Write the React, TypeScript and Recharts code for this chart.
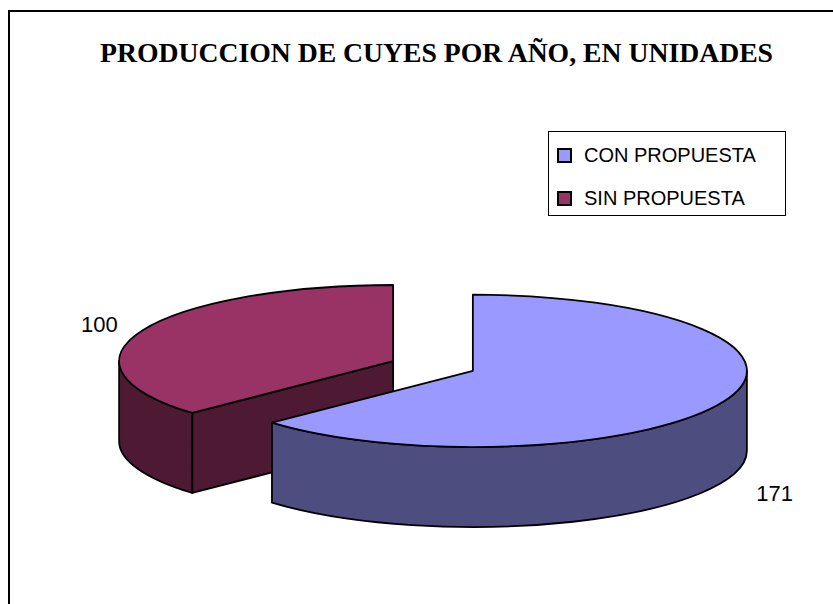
import React from 'react';
import { PieChart, Pie, Cell, Legend } from 'recharts';

const categories = ['CON PROPUESTA', 'SIN PROPUESTA'];
const values = [171, 100];
const topColors = ['#9999FF', '#993366'];
const sideColors = ['#4D4D80', '#4D1933'];
const chartTitle = 'PRODUCCION DE CUYES POR AÑO, EN UNIDADES';

// drawing order: SIN PROPUESTA first (it sits behind), CON PROPUESTA on top
const drawOrder = [1, 0];
const pieData = drawOrder.map((i) => ({
  name: categories[i],
  value: values[i],
  top: topColors[i],
  side: sideColors[i],
}));

const TILT = 0.278;
const DEPTH = 80;
const EXPLODE = 43.5;
const RAD = Math.PI / 180;

function Slice3D(props: any) {
  const { cx, cy, outerRadius, startAngle, endAngle, midAngle } = props;
  const entry = props.payload && props.payload.side ? props.payload : props;
  const top = entry.top || props.fill;
  const side = entry.side || '#444';
  const rx = outerRadius;
  const ry = rx * TILT;
  const mid = (midAngle ?? (startAngle + endAngle) / 2) * RAD;
  const ox = cx + EXPLODE * Math.cos(mid);
  const oy = cy - EXPLODE * TILT * Math.sin(mid);
  const a0 = Math.min(startAngle, endAngle);
  const a1 = Math.max(startAngle, endAngle);
  const P = (a: number, d = 0) => [ox + rx * Math.cos(a * RAD), oy - ry * Math.sin(a * RAD) + d];
  const f = (p: number[]) => `${p[0].toFixed(2)} ${p[1].toFixed(2)}`;

  const faces: React.ReactNode[] = [];
  // radial cut faces
  const radial = (a: number, normal: number, key: string) => {
    if (Math.sin(normal * RAD) < -1e-3) {
      const d = `M ${f([ox, oy])} L ${f(P(a))} L ${f(P(a, DEPTH))} L ${f([ox, oy + DEPTH])} Z`;
      faces.push(<path key={key} d={d} fill={side} stroke="#000" strokeWidth={1.8} strokeLinejoin="round" />);
    }
  };
  radial(a0, a0 - 90, 'r0');
  radial(a1, a1 + 90, 'r1');
  // outer curved wall (front half only)
  for (let k = -1; k <= 2; k++) {
    const lo = Math.max(a0, 180 + 360 * k);
    const hi = Math.min(a1, 360 + 360 * k);
    if (hi > lo) {
      const d = `M ${f(P(lo))} A ${rx} ${ry} 0 0 0 ${f(P(hi))} L ${f(P(hi, DEPTH))} A ${rx} ${ry} 0 0 1 ${f(P(lo, DEPTH))} Z`;
      faces.push(<path key={'w' + k} d={d} fill={side} stroke="#000" strokeWidth={1.8} strokeLinejoin="round" />);
    }
  }
  const large = a1 - a0 > 180 ? 1 : 0;
  const topD = `M ${f([ox, oy])} L ${f(P(a0))} A ${rx} ${ry} 0 ${large} 0 ${f(P(a1))} Z`;
  faces.push(<path key="top" d={topD} fill={top} stroke="#000" strokeWidth={1.8} strokeLinejoin="round" />);
  return <g>{faces}</g>;
}

const renderLabel = (props: any) => {
  const { cx, cy, midAngle, outerRadius, value } = props;
  const rx = outerRadius;
  const ry = rx * TILT;
  const m = midAngle * RAD;
  const ox = cx + EXPLODE * Math.cos(m);
  const oy = cy - EXPLODE * TILT * Math.sin(m);
  const front = Math.sin(m) < 0;
  const x = ox + rx * 1.17 * Math.cos(m) + (front ? 8 * Math.sign(Math.cos(m)) : 0);
  const y = oy - ry * 1.2 * Math.sin(m) + (front ? DEPTH + 6 : 0);
  return (
    <text x={x} y={y} textAnchor="middle" dominantBaseline="central" fontFamily="'Liberation Sans', Arial, sans-serif" fontSize={22} fill="#000">
      {value}
    </text>
  );
};

const LegendBox = () => (
  <div
    style={{
      width: 238,
      height: 85,
      boxSizing: 'border-box',
      border: '1.5px solid #000',
      background: '#fff',
      fontFamily: "'Liberation Sans', Arial, sans-serif",
      fontSize: 20,
      color: '#000',
      position: 'relative',
    }}
  >
    {categories.map((c, i) => (
      <div key={c} style={{ position: 'absolute', left: 8, top: 12 + i * 43, height: 22, display: 'flex', alignItems: 'center', whiteSpace: 'nowrap' }}>
        <span style={{ display: 'inline-block', width: 15, height: 15, boxSizing: 'border-box', border: '2px solid #000', background: topColors[i], marginRight: 12 }} />
        <span>{c}</span>
      </div>
    ))}
  </div>
);

export default function App() {
  return (
    <div style={{ position: 'absolute', left: 0, top: 0, width: 833, height: 604, overflow: 'hidden', background: '#fff' }}>
      <div style={{ position: 'absolute', left: 8, top: 10, width: 900, height: 700, boxSizing: 'border-box', border: '2px solid #000' }} />
      <div
        style={{
          position: 'absolute',
          left: 0,
          width: 873,
          top: 38,
          textAlign: 'center',
          fontFamily: "'Liberation Serif', 'Times New Roman', serif",
          fontWeight: 'bold',
          fontSize: 27.7,
          lineHeight: '30px',
          color: '#000',
          whiteSpace: 'nowrap',
        }}
      >
        {chartTitle}
      </div>
      <div style={{ position: 'absolute', left: 0, top: 0 }}>
        <PieChart width={833} height={604} margin={{ top: 0, right: 0, bottom: 0, left: 0 }}>
          <Pie
            data={pieData}
            dataKey="value"
            nameKey="name"
            cx={433}
            cy={366}
            outerRadius={274}
            startAngle={90}
            endAngle={450}
            isAnimationActive={false}
            shape={Slice3D}
            label={renderLabel}
            labelLine={false}
            stroke="#000"
          >
            {pieData.map((d) => (
              <Cell key={d.name} fill={d.top} />
            ))}
          </Pie>
          <Legend content={() => <LegendBox />} wrapperStyle={{ position: 'absolute', left: 548, top: 131, width: 238, height: 85, right: 'auto', bottom: 'auto' }} />
        </PieChart>
      </div>
    </div>
  );
}
